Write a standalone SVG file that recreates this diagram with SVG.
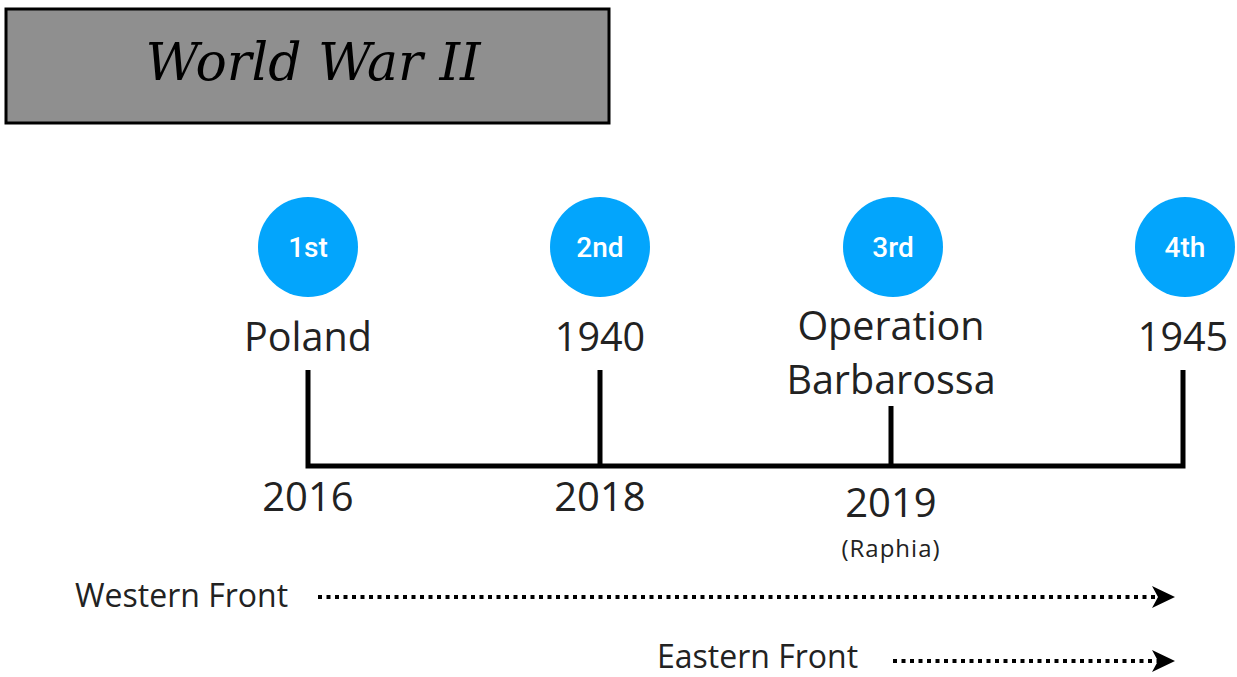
<svg xmlns="http://www.w3.org/2000/svg" width="1237" height="677" viewBox="0 0 1237 677">
<style>
.circ{fill:#03a5fc}
.ct{font-family:Roboto,"Liberation Sans",Arial,sans-serif;font-weight:500;font-size:28px;fill:#fff;text-anchor:middle}
.lbl{font-family:"Open Sans","DejaVu Sans",sans-serif;font-size:39.5px;fill:#222;text-anchor:middle}
.yr{font-family:"Open Sans","DejaVu Sans",sans-serif;font-size:40px;fill:#222;text-anchor:middle}
.sm{font-family:"Open Sans","DejaVu Sans",sans-serif;font-size:24px;letter-spacing:1px;fill:#222;text-anchor:middle}
.fr{font-family:"Open Sans","DejaVu Sans",sans-serif;font-size:32px;fill:#222}
.tl{stroke:#000;stroke-width:5;fill:none}
.dot{stroke:#000;stroke-width:4;stroke-dasharray:4 4.5;fill:none}
.head{fill:#000}
</style>
<defs>
<path id="ah" d="M-23,-11 L0,0 L-23,11 L-17,0 Z"/>
</defs>
<rect width="1237" height="677" fill="#fff"/>
<g id="title">
<rect x="6" y="9" width="603" height="114" fill="#8f8f8f" stroke="#000" stroke-width="3"/>
<text x="313" y="80" font-family="'DejaVu Serif','Liberation Serif',serif" font-style="italic" font-size="52" fill="#000" text-anchor="middle">World War II</text>
</g>
<g id="connectors">
<path class="tl" d="M308,370 V466 M600,370 V466 M891,406 V466 M1183,370 V466 M305.5,466 H1185.5"/>
<path class="dot" d="M318,597 H1158"/>
<use href="#ah" class="head" x="1175" y="597"/>
<path class="dot" d="M893,661 H1158"/>
<use href="#ah" class="head" x="1175" y="661"/>
</g>
<g id="node1">
<circle class="circ" cx="308" cy="247" r="50"/>
<text class="ct" x="308" y="257">1st</text>
<text class="lbl" x="308" y="351">Poland</text>
<text class="yr" x="308" y="511">2016</text>
</g>
<g id="node2">
<circle class="circ" cx="600" cy="247" r="50"/>
<text class="ct" x="600" y="257">2nd</text>
<text class="lbl" x="600" y="351">1940</text>
<text class="yr" x="600" y="511">2018</text>
</g>
<g id="node3">
<circle class="circ" cx="893" cy="247" r="50"/>
<text class="ct" x="893" y="257">3rd</text>
<text class="lbl" x="891" y="340">Operation</text>
<text class="lbl" x="891" y="394">Barbarossa</text>
<text class="yr" x="891" y="517">2019</text>
<text class="sm" x="891" y="557">(Raphia)</text>
</g>
<g id="node4">
<circle class="circ" cx="1185" cy="247" r="50"/>
<text class="ct" x="1185" y="257">4th</text>
<text class="lbl" x="1183" y="351">1945</text>
</g>
<g id="western">
<text class="fr" x="75" y="607">Western Front</text>
</g>
<g id="eastern">
<text class="fr" x="657" y="668">Eastern Front</text>
</g>
</svg>
